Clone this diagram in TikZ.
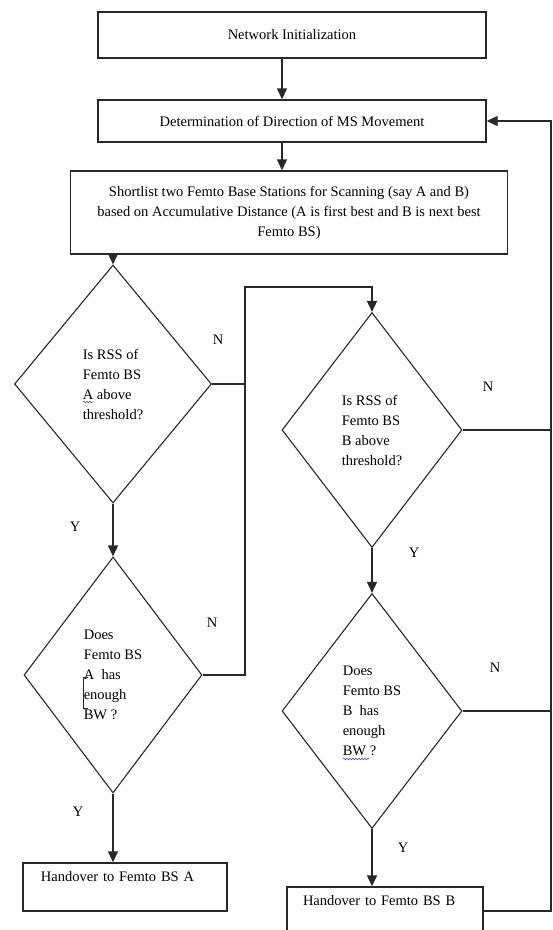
\documentclass[tikz,border=0pt]{standalone}
\usepackage{fontspec}
\setmainfont{Liberation Serif}
\usetikzlibrary{arrows.meta, positioning, calc, shapes.geometric, decorations.pathmorphing}
\definecolor{inkc}{RGB}{40,40,40}
\definecolor{spellc}{RGB}{70,70,210}

\begin{document}
\begin{tikzpicture}[x=1pt,y=-1pt,
		font=\fontsize{14.5}{20}\selectfont,
		box/.style={draw=inkc,line width=1.4pt,inner sep=0pt},
		ask/.style={diamond,draw=inkc,line width=1.1pt,inner sep=0pt,align=left},
		link/.style={draw=inkc,line width=1.4pt},
		arr/.style={link,-{Triangle[length=11pt,width=10pt]}},
		yn/.style={inner sep=0pt}]
			\useasboundingbox (0,0) rectangle (553,930);
			% process boxes
			\node[box,minimum width=388pt,minimum height=46pt] (init) at (292,35) {Network Initialization};
			\node[box,minimum width=388pt,minimum height=42pt] (direc) at (292,121) {Determination of Direction of MS Movement};
			\node[box,minimum width=437pt,minimum height=83pt,align=center] (shortlist) at (289,212.5)
				{Shortlist two Femto Base Stations for Scanning (say A and B)\\based on Accumulative Distance (A is first best and B is next best\\Femto BS)};
			% decisions
			\node[ask,minimum width=197pt,minimum height=238pt] (rssA) at (113,384) {Is RSS of\\Femto BS\\A above\\threshold?};
			\node[ask,minimum width=178pt,minimum height=236pt] (bwA) at (113,675) {Does\\Femto BS\\A~ has\\enough\\BW ?};
			\node[ask,minimum width=180pt,minimum height=235pt] (rssB) at (372,430) {Is RSS of\\Femto BS\\B above\\threshold?};
			\node[ask,minimum width=180pt,minimum height=235pt] (bwB) at (372,711) {Does\\Femto BS\\B~ has\\enough\\BW ?};
			% handover boxes
			\node[box,minimum width=204pt,minimum height=48pt,text width=168pt,align=left] (hoA) at (125,887) {Handover to Femto BS A\\[-4pt]\strut};
			\node[box,minimum width=196pt,minimum height=48pt,text width=164pt,align=left] (hoB) at (385,911) {Handover to Femto BS B\\[-4pt]\strut};
			% branch labels
			\node[yn] (nA1) at (218,340) {N};
			\node[yn] (yA1) at (75,527) {Y};
			\node[yn] (nA2) at (212,623) {N};
			\node[yn] (yA2) at (78,812) {Y};
			\node[yn] (nB1) at (488,387) {N};
			\node[yn] (yB1) at (414,553) {Y};
			\node[yn] (nB2) at (495,668) {N};
			\node[yn] (yB2) at (403,848) {Y};
			% helper points
			\coordinate (ax) at (282,0);
			\coordinate (jA) at (245,287);
			\coordinate (fb) at (551,0);
			% main flow
			\draw[arr] (init.south -| ax) -- (direc.north -| ax);
			\draw[arr] (direc.south -| ax) -- (shortlist.north -| ax);
			\draw[arr] (shortlist.south -| rssA.north) -- (rssA.north);
			\draw[arr] (rssA.south) -- (bwA.north);
			\draw[arr] (bwA.south) -- (bwA.south |- hoA.north);
			\draw[arr] (rssB.south) -- (bwB.north);
			\draw[arr] (bwB.south) -- (bwB.south |- hoB.north);
			% N branches
			\draw[arr] (rssA.east) -| (jA) -| (rssB.north);
			\draw[link] (bwA.east) -| (jA);
			\draw[link] (rssB.east) -- (rssB.east -| fb);
			\draw[link] (bwB.east) -- (bwB.east -| fb);
			% back to direction step
			\draw[arr] (hoB.east) -| (direc.east -| fb) -- (direc.east);
			% marks in the scan
			\draw[inkc,line width=0.8pt] ($(bwA.center)+(-25,2)$) -- ($(bwA.center)+(-30,2)$) -- ($(bwA.center)+(-30,33)$) -- ($(bwA.center)+(-25,33)$);
			\draw[spellc,line width=0.6pt,decorate,decoration={snake,amplitude=0.8pt,segment length=3pt}] ($(rssA.center)+(-30,18)$) -- ($(rssA.center)+(-20,18)$);
			\draw[spellc,line width=0.6pt,decorate,decoration={snake,amplitude=0.8pt,segment length=3pt}] ($(bwB.center)+(-29,48)$) -- ($(bwB.center)+(-3,48)$);
		\end{tikzpicture}
\end{document}
